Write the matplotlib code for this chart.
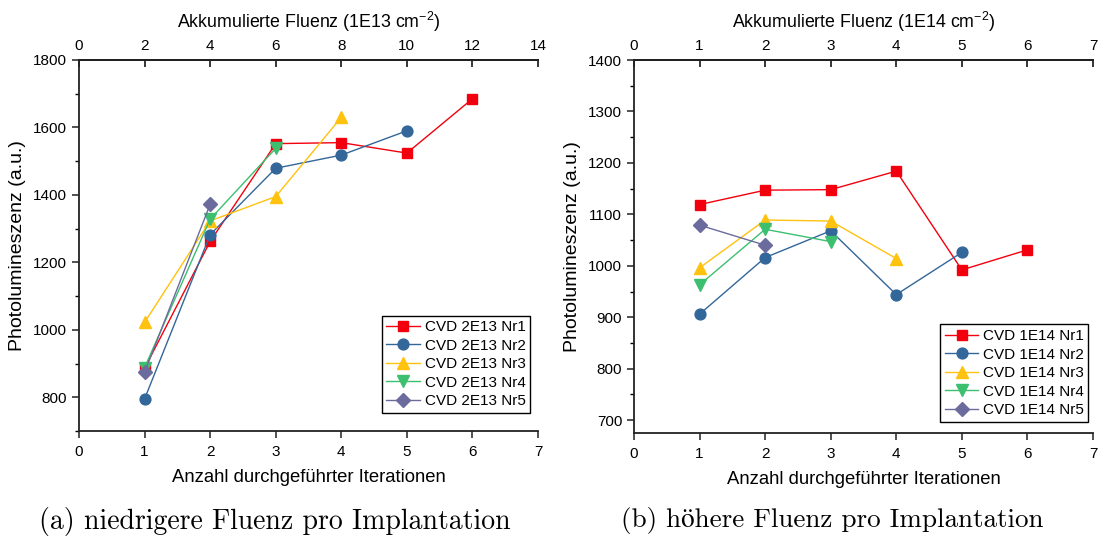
import matplotlib
matplotlib.use("Agg")
import matplotlib.pyplot as plt
from matplotlib.ticker import MultipleLocator

plt.rcParams['font.family'] = ['Liberation Sans', 'DejaVu Sans']
plt.rcParams['mathtext.default'] = 'regular'

# ---------------- data ----------------
iterations = [1, 2, 3, 4, 5, 6]
a_nr1 = [886, 1262, 1552, 1555, 1524, 1685]
a_nr2 = [795, 1282, 1479, 1518, 1590]
a_nr3 = [1022, 1323, 1395, 1630]
a_nr4 = [888, 1328, 1538]
a_nr5 = [874, 1372]

b_nr1 = [1119, 1147, 1148, 1184, 992, 1031]
b_nr2 = [906, 1016, 1068, 944, 1026]
b_nr3 = [996, 1089, 1087, 1014]
b_nr4 = [963, 1071, 1047]
b_nr5 = [1079, 1040]

labels_a = ['CVD 2E13 Nr1', 'CVD 2E13 Nr2', 'CVD 2E13 Nr3', 'CVD 2E13 Nr4', 'CVD 2E13 Nr5']
labels_b = ['CVD 1E14 Nr1', 'CVD 1E14 Nr2', 'CVD 1E14 Nr3', 'CVD 1E14 Nr4', 'CVD 1E14 Nr5']
captions = ['(a) niedrigere Fluenz pro Implantation', '(b) höhere Fluenz pro Implantation']

colors = ['#F2000D', '#336699', '#FFC20E', '#3DBF70', '#6B6B9E']
markers = ['s', 'o', '^', 'v', 'D']
msizes = [7.8, 7.8, 9, 9, 7.2]

W, H = 1105, 539
fig = plt.figure(figsize=(W / 100, H / 100), dpi=100)


def make_axes(x0, x1, y_top, y_bot):
    return fig.add_axes([x0 / W, (H - y_bot) / H, (x1 - x0) / W, (y_bot - y_top) / H])


def style(ax, series, labels, ylim, ymaj, ymin, top_factor, top_step, top_label, leg_anchor):
    for i, ys in enumerate(series):
        ax.plot(iterations[:len(ys)], ys, color=colors[i], marker=markers[i], ms=msizes[i],
                lw=1.0, label=labels[i], zorder=3 + i)
    ax.set_xlim(0, 7)
    ax.set_ylim(*ylim)
    ax.xaxis.set_major_locator(MultipleLocator(1))
    ax.yaxis.set_major_locator(MultipleLocator(ymaj))
    ax.yaxis.set_minor_locator(MultipleLocator(ymin))
    ax.spines['right'].set_visible(False)
    for s in ['left', 'bottom', 'top']:
        ax.spines[s].set_linewidth(1.3)
        ax.spines[s].set_color('#222222')
    ax.tick_params(axis='both', which='major', direction='out', length=5, width=1.1,
                   labelsize=11, colors='#222222', labelcolor='black')
    ax.tick_params(axis='y', which='minor', direction='out', length=3, width=1.0)
    ax.tick_params(axis='x', which='major', top=False, pad=5)
    ax.set_xlabel('Anzahl durchgeführter Iterationen', fontsize=13.3, labelpad=7)
    ax.set_ylabel('Photolumineszenz (a.u.)', fontsize=14, labelpad=5)
    sec = ax.secondary_xaxis('top', functions=(lambda x: x * top_factor, lambda x: x / top_factor))
    sec.xaxis.set_major_locator(MultipleLocator(top_step))
    sec.tick_params(direction='in', length=5, width=1.1, labelsize=11, pad=5)
    sec.spines['top'].set_linewidth(1.3)
    sec.set_xlabel(top_label, fontsize=12.8, labelpad=8)
    leg = ax.legend(loc='lower right', bbox_to_anchor=leg_anchor, fontsize=11, frameon=True,
                    fancybox=False, edgecolor='black', framealpha=1, handlelength=2.2,
                    borderpad=0.3, labelspacing=0.3, handletextpad=0.3, borderaxespad=0.0)
    leg.get_frame().set_linewidth(1.0)


ax1 = make_axes(79, 538, 60, 431)
style(ax1, [a_nr1, a_nr2, a_nr3, a_nr4, a_nr5], labels_a, (700, 1800), 200, 100,
      2, 2, r'Akkumulierte Fluenz (1E13 cm$^{-2}$)', (0.9826, 0.0485))
ax1.set_yticks([800, 1000, 1200, 1400, 1600, 1800])

ax2 = make_axes(634, 1093, 60, 433)
style(ax2, [b_nr1, b_nr2, b_nr3, b_nr4, b_nr5], labels_b, (675, 1400), 100, 50,
      1, 1, r'Akkumulierte Fluenz (1E14 cm$^{-2}$)', (0.990, 0.0295))

cap_font = ['cmr10', 'STIXGeneral', 'DejaVu Serif']
fig.text(275 / W, (H - 521) / H, captions[0], ha='center', va='center',
         fontsize=20, family=cap_font)
fig.text(832 / W, (H - 521) / H, captions[1], ha='center', va='center',
         fontsize=19.5, family=cap_font)

fig.savefig('out.png', dpi=100)
